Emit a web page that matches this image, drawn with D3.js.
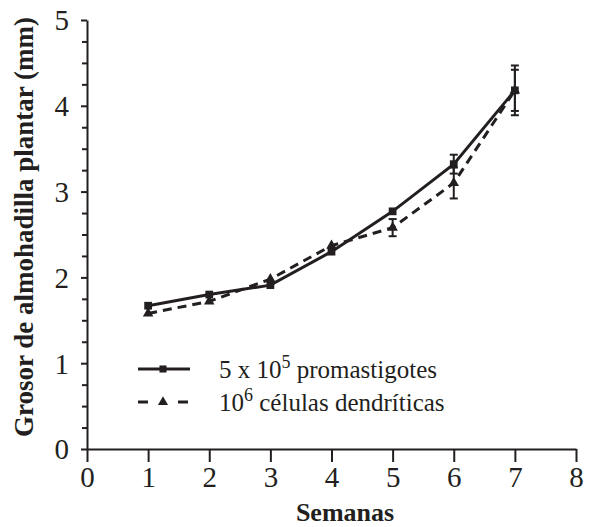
<!DOCTYPE html>
<html lang="es">
<head>
<meta charset="utf-8">
<script src="https://d3js.org/d3.v7.min.js"></script>
<style>
  html, body { margin: 0; padding: 0; background: #fff; }
  text, tspan { font-family: "Liberation Serif", serif; }
</style>
</head>
<body>
<div id="chart"></div>
<script>
// data
var weeks = [1, 2, 3, 4, 5, 6, 7];
var promastigotes = [1.67, 1.80, 1.91, 2.30, 2.77, 3.32, 4.18];
var promastigotesErr = [0, 0, 0, 0, 0, 0.11, 0.29];
var dendriticas = [1.58, 1.72, 1.98, 2.37, 2.58, 3.10, 4.18];
var dendriticasErr = [0, 0, 0, 0, 0.10, 0.18, 0.24];
var xTicks = [0, 1, 2, 3, 4, 5, 6, 7, 8];
var yTicks = [0, 1, 2, 3, 4, 5];

var ink = "#231f20";
var serif = "'Liberation Serif', serif";
var width = 600, height = 527;

var svg = d3.select("#chart").append("svg")
    .attr("width", width)
    .attr("height", height)
    .style("font-family", serif);

var x = d3.scaleLinear().domain([0, 8]).range([87, 576]);
var y = d3.scaleLinear().domain([0, 5]).range([449, 20]);

// minor ticks on y every 0.25
var yMinor = d3.range(0, 5.001, 0.25).filter(function (d) { return d % 1 !== 0; });

var yAxisMinor = svg.append("g")
    .attr("transform", "translate(" + x(0) + ",0)")
    .call(d3.axisLeft(y).tickValues(yMinor).tickSize(5).tickFormat(""));
yAxisMinor.select(".domain").remove();
yAxisMinor.selectAll("text").remove();

var yAxis = svg.append("g")
    .attr("transform", "translate(" + x(0) + ",0)")
    .call(d3.axisLeft(y).tickValues(yTicks).tickSize(6).tickSizeOuter(0).tickPadding(12)
        .tickFormat(d3.format("d")));

var xAxis = svg.append("g")
    .attr("transform", "translate(0," + y(0) + ")")
    .call(d3.axisBottom(x).tickValues(xTicks).tickSize(13).tickSizeOuter(0).tickPadding(4)
        .tickFormat(d3.format("d")));

[yAxis, xAxis, yAxisMinor].forEach(function (a) {
    a.attr("font-family", null);
    a.selectAll("path, line").attr("stroke", ink).attr("stroke-width", 2);
    a.selectAll("text")
        .attr("fill", ink)
        .style("font-family", serif)
        .style("font-size", "29px");
});
yAxis.selectAll("text").attr("dy", "0.34em");

// axis titles
svg.append("text")
    .attr("x", 345)
    .attr("y", 521)
    .attr("text-anchor", "middle")
    .attr("fill", ink)
    .style("font-size", "26px")
    .style("font-weight", "bold")
    .text("Semanas");

svg.append("text")
    .attr("transform", "translate(33,227)rotate(-90)")
    .attr("text-anchor", "middle")
    .attr("fill", ink)
    .style("font-size", "27px")
    .style("font-weight", "bold")
    .text("Grosor de almohadilla plantar (mm)");

var series = [
    { name: "promastigotes", values: promastigotes, err: promastigotesErr, dash: null, symbol: d3.symbolSquare, size: 60 },
    { name: "dendriticas", values: dendriticas, err: dendriticasErr, dash: "9,6", symbol: d3.symbolTriangle, size: 48 }
];

var line = d3.line()
    .x(function (d) { return x(d.w); })
    .y(function (d) { return y(d.v); });

series.forEach(function (s) {
    var pts = weeks.map(function (w, i) { return { w: w, v: s.values[i], e: s.err[i] }; });

    svg.append("path")
        .datum(pts)
        .attr("fill", "none")
        .attr("stroke", ink)
        .attr("stroke-width", 3)
        .attr("stroke-dasharray", s.dash)
        .attr("d", line);

    var eb = svg.append("g").selectAll("g")
        .data(pts.filter(function (d) { return d.e > 0; }))
        .enter().append("g")
        .attr("stroke", ink)
        .attr("stroke-width", 2);
    eb.append("line")
        .attr("x1", function (d) { return x(d.w); })
        .attr("x2", function (d) { return x(d.w); })
        .attr("y1", function (d) { return y(d.v - d.e); })
        .attr("y2", function (d) { return y(d.v + d.e); });
    eb.append("line")
        .attr("x1", function (d) { return x(d.w) - 4; })
        .attr("x2", function (d) { return x(d.w) + 4; })
        .attr("y1", function (d) { return y(d.v - d.e); })
        .attr("y2", function (d) { return y(d.v - d.e); });
    eb.append("line")
        .attr("x1", function (d) { return x(d.w) - 4; })
        .attr("x2", function (d) { return x(d.w) + 4; })
        .attr("y1", function (d) { return y(d.v + d.e); })
        .attr("y2", function (d) { return y(d.v + d.e); });

    svg.append("g").selectAll("path")
        .data(pts)
        .enter().append("path")
        .attr("transform", function (d) { return "translate(" + x(d.w) + "," + y(d.v) + ")"; })
        .attr("fill", ink)
        .attr("d", d3.symbol().type(s.symbol).size(s.size));
});

// legend
var legend = svg.append("g");
var rows = [
    { y: 369, base: "5 x 10", sup: "5", rest: " promastigotes", dash: null, symbol: d3.symbolSquare, size: 50 },
    { y: 402, base: "10", sup: "6", rest: " células dendríticas", dash: "10,30", symbol: d3.symbolTriangle, size: 44 }
];
var lg = legend.selectAll("g").data(rows).enter().append("g");
lg.append("line")
    .attr("x1", 138).attr("x2", 190)
    .attr("y1", function (d) { return d.y; })
    .attr("y2", function (d) { return d.y; })
    .attr("stroke", ink)
    .attr("stroke-width", 3)
    .attr("stroke-dasharray", function (d) { return d.dash; });
lg.append("path")
    .attr("transform", function (d) { return "translate(163," + d.y + ")"; })
    .attr("fill", ink)
    .attr("d", function (d) { return d3.symbol().type(d.symbol).size(d.size)(); });
var lt = lg.append("text")
    .attr("x", 219)
    .attr("y", function (d) { return d.y + 8.5; })
    .attr("fill", ink)
    .style("font-size", "25px");
lt.append("tspan").text(function (d) { return d.base; });
lt.append("tspan").attr("dy", -10).style("font-size", "18px").text(function (d) { return d.sup; });
lt.append("tspan").attr("dy", 10).text(function (d) { return d.rest; });
</script>
</body>
</html>
